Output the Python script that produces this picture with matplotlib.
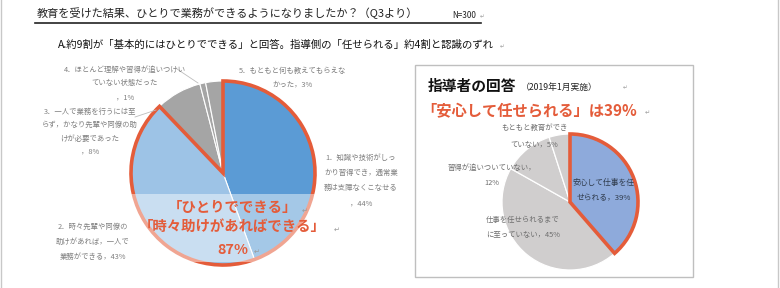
import matplotlib
matplotlib.use("Agg")
import matplotlib.pyplot as plt
from matplotlib.patches import Rectangle

plt.rcParams['font.family'] = ['Noto Sans CJK JP', 'DejaVu Sans']

W, H = 780, 288

# ---- data ----
title = "教育を受けた結果、ひとりで業務ができるようになりましたか？（Q3より）"
n_label = "N=300"
subtitle = "A.約9割が「基本的にはひとりでできる」と回答。指導側の「任せられる」約4割と認識のずれ"

left_values = [44, 43, 8, 1, 3]
left_labels = [
    "1．知識や技術がしっ\nかり習得でき，通常業\n務は支障なくこなせる\n，44%",
    "2．時々先輩や同僚の\n助けがあれば，一人で\n業務ができる，43%",
    "3．一人で業務を行うには至\nらず，かなり先輩や同僚の助\nけが必要であった\n，8%",
    "4．ほとんど理解や習得が追いつけい\nていない状態だった\n，1%",
    "5．もともと何も教えてもらえな\nかった，3%",
]
left_colors = ["#5B9BD5", "#9DC3E6", "#A5A5A5", "#A5A5A5", "#A5A5A5"]
left_highlight = 2  # first two slices outlined

band_lines = ["「ひとりでできる」", "「時々助けがあればできる」", "87%"]

right_title = "指導者の回答"
right_date = "（2019年1月実施）"
right_head = "「安心して任せられる」は39%"
right_values = [39, 45, 12, 5]
right_labels = [
    "安心して仕事を任\nせられる，39%",
    "仕事を任せられるまで\nに至っていない，45%",
    "習得が追いついていない，\n12%",
    "もともと教育ができ\nていない，5%",
]
right_colors = ["#8EAADB", "#D0CECE", "#D0CECE", "#D0CECE"]
right_highlight = 1

RED = "#E45C3A"

fig = plt.figure(figsize=(W / 100, H / 100), dpi=100)
bg = fig.add_axes([0, 0, 1, 1], zorder=0)
bg.set_xlim(0, W); bg.set_ylim(H, 0); bg.axis("off")


def pie_axes(cx, cy, r, z):
    ax = fig.add_axes([(cx - r) / W, (H - cy - r) / H, 2 * r / W, 2 * r / H], zorder=z)
    return ax


def fix_limits(ax):
    ax.set_aspect("auto")
    ax.set_xlim(-1, 1); ax.set_ylim(-1, 1); ax.axis("off")


def lines_text(ax, x, y0, text, dy, **kw):
    for i, ln in enumerate(text.split("\n")):
        ax.text(x, y0 + i * dy, ln, ha="center", va="center", **kw)


def ret(ax, x, y, size=5):
    ax.text(x, y, "\u21b5", ha="center", va="center", fontsize=size,
            color="#9a9a9a", family="DejaVu Sans")


# frame lines
bg.plot([1, 1], [0, H], color="#c8c8c8", lw=1)
bg.plot([778, 778], [0, H], color="#c8c8c8", lw=1)

# header
bg.text(37, 13, title, ha="left", va="center", fontsize=8.0, color="#222222")
bg.text(452, 16, n_label, ha="left", va="center", fontsize=5.8, color="#222222")
ret(bg, 482, 17, 4)
bg.plot([35, 481], [22.5, 22.5], color="#222222", lw=1.2)
bg.text(58, 45, subtitle, ha="left", va="center", fontsize=7.5, color="#111111")
ret(bg, 502, 47, 4)

# ---- left pie ----
axL = pie_axes(223, 173, 92, 1)
axL.pie(left_values, colors=left_colors, startangle=90, counterclock=False,
        wedgeprops=dict(edgecolor="white", linewidth=0.8))
hw, _ = axL.pie([sum(left_values[:left_highlight]), sum(left_values[left_highlight:])],
                colors=["none", "none"], startangle=90, counterclock=False,
                wedgeprops=dict(linewidth=2.6))
hw[0].set_edgecolor(RED); hw[0].set_joinstyle("miter"); hw[0].set_zorder(5)
hw[1].set_edgecolor("none")
axL.add_patch(Rectangle((-1.1, (173 - 262) / 92), 2.2, (262 - 194) / 92,
                        facecolor="white", alpha=0.45, edgecolor="none", zorder=6,
                        clip_on=False))
fix_limits(axL)

top = fig.add_axes([0, 0, 1, 1], zorder=3)
top.set_xlim(0, W); top.set_ylim(H, 0); top.axis("off"); top.patch.set_alpha(0)

lab_kw = dict(fontsize=5.3, color="#7f7f7f")
lines_text(top, 361, 158, left_labels[0], 15.2, **lab_kw)
lines_text(top, 93, 227, left_labels[1], 15, **lab_kw)
lines_text(top, 90, 112, left_labels[2], 13.3, **lab_kw)
lines_text(top, 125, 70, left_labels[3], 13.5, **lab_kw)
lines_text(top, 293, 71, left_labels[4], 13, **lab_kw)
top.plot([177, 198], [69, 83], color="#bdbdbd", lw=0.6)
top.plot([135, 156], [117, 110], color="#bdbdbd", lw=0.6)

band_kw = dict(fontsize=10.4, color=RED, fontweight="bold")
top.text(232, 208, band_lines[0], ha="center", va="center", **band_kw)
top.text(232, 227, band_lines[1], ha="center", va="center", **band_kw)
top.text(233, 250, band_lines[2], ha="center", va="center", **band_kw)
ret(top, 305, 211); ret(top, 337, 230); ret(top, 257, 252)

# ---- right panel ----
bg.add_patch(Rectangle((415, 65), 278, 212, facecolor="white",
                       edgecolor="#bfbfbf", lw=1))
top.text(428, 86, right_title, ha="left", va="center", fontsize=10.6,
         fontweight="bold", color="#111111")
top.text(521, 87, right_date, ha="left", va="center", fontsize=6.3, color="#222222")
ret(top, 625, 88, 4)
top.text(421, 111, right_head, ha="left", va="center", fontsize=11,
         fontweight="bold", color=RED)
ret(top, 647, 113, 4.5)

axR = pie_axes(570, 202, 68, 2)
axR.pie(right_values, colors=right_colors, startangle=90, counterclock=False,
        wedgeprops=dict(edgecolor="white", linewidth=0.9))
hr, _ = axR.pie([sum(right_values[:right_highlight]), sum(right_values[right_highlight:])],
                colors=["none", "none"], startangle=90, counterclock=False,
                wedgeprops=dict(linewidth=2.6))
hr[0].set_edgecolor(RED); hr[0].set_joinstyle("miter"); hr[0].set_zorder(5)
hr[1].set_edgecolor("none")
fix_limits(axR)

rk = dict(fontsize=5.3, color="#6e6e6e")
lines_text(top, 604, 183, right_labels[0], 15, fontsize=5.6, color="#2F3B4C")
lines_text(top, 523, 220, right_labels[1], 15, **rk)
lines_text(top, 492, 168, right_labels[2], 15, **rk)
lines_text(top, 534, 128, right_labels[3], 17, **rk)

fig.savefig("out.png", dpi=100)
